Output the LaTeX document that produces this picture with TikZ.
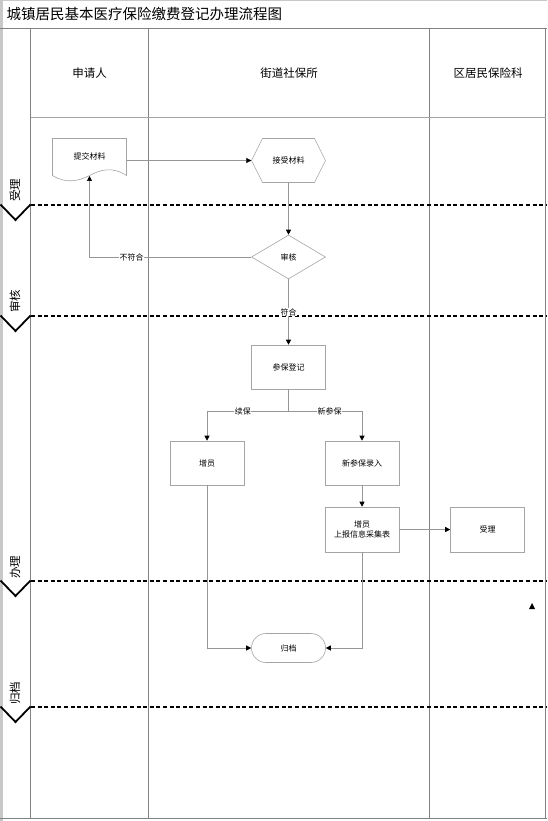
\documentclass[tikz,border=0pt]{standalone}
\usepackage{fontspec}
\setmainfont{Liberation Serif}
\newfontfamily\cjk{Noto Sans CJK SC}
\usetikzlibrary{arrows.meta,shapes.geometric}
\definecolor{linegray}{RGB}{150,150,150}
\definecolor{boxgray}{RGB}{165,165,165}
\definecolor{framegray}{RGB}{130,130,130}
\definecolor{stripgray}{RGB}{200,200,200}
\tikzset{
  box/.style={draw=boxgray, line width=0.6pt, minimum width=74pt, minimum height=44pt, inner sep=0pt, font=\cjk\fontsize{8}{10}\selectfont, align=center},
  plain/.style={inner sep=0pt, font=\cjk\fontsize{8}{10}\selectfont, align=center},
  conn/.style={draw=linegray, line width=0.6pt, -{Triangle[length=5pt,width=5pt,color=black]}},
  connplain/.style={draw=linegray, line width=0.6pt},
  lbl/.style={fill=white, inner sep=0.5pt, font=\cjk\fontsize{8}{10}\selectfont},
  frame/.style={draw=framegray, line width=0.8pt},
  sep/.style={draw=black, line width=1.6pt, dash pattern=on 4pt off 2.6pt},
  chev/.style={draw=black, line width=1.8pt},
  head/.style={font=\cjk\fontsize{11.5}{13}\selectfont},
  phase/.style={font=\cjk\fontsize{11.5}{13}\selectfont, rotate=90},
}
\begin{document}
\begin{tikzpicture}[x=1pt,y=-1pt]
\useasboundingbox (0,0) rectangle (547,821);
\fill[white] (0,0) rectangle (547,821);
% outer frame
\fill[stripgray] (0,0) rectangle (2.5,821);
\draw[draw=stripgray, line width=0.8pt] (0,0.5) -- (547,0.5);
\node[anchor=west, font=\cjk\fontsize{14.5}{16}\selectfont] (title) at (3,14) {城镇居民基本医疗保险缴费登记办理流程图};
\draw[frame] (0,28.5) -- (547,28.5);
\draw[frame] (545.5,28.5) -- (545.5,818);
\draw[frame] (0,818) -- (547,818);
% columns
\draw[frame] (30.5,28.5) -- (30.5,818);
\draw[frame] (148.5,28.5) -- (148.5,818);
\draw[frame] (429.5,28.5) -- (429.5,818);
\draw[draw=boxgray, line width=0.6pt] (30.5,117.5) -- (545.5,117.5);
% headers
\node[head] (h1) at (89.5,73) {申请人};
\node[head] (h2) at (289,73) {街道社保所};
\node[head] (h3) at (488,73) {区居民保险科};
% phase separators
\foreach \yy in {205,316,581,707}{
  \draw[sep] (31,\yy) -- (547,\yy);
  \draw[chev] (0.5,\yy-0.5) -- (15.5,\yy+15) -- (30.5,\yy-0.5);
}
\node[phase] (p1) at (15,190) {受理};
\node[phase] (p2) at (15,301) {审核};
\node[phase] (p3) at (15,567) {办理};
\node[phase] (p4) at (15,693) {归档};
% nodes
\node[plain, minimum width=74pt, minimum height=38pt] (submit) at (89.5,156) {提交材料};
\draw[draw=boxgray, line width=0.6pt] (52.5,138.5) -- (126.5,138.5) -- (126.5,175.5)
  .. controls (112,166) and (100,170) .. (89.5,175.5)
  .. controls (79,181) and (66,184) .. (52.5,175.5) -- cycle;
\coordinate (submitbot) at (89.5,176);
\node[plain, minimum width=74pt, minimum height=45pt] (accept) at (288.5,160.5) {接受材料};
\draw[draw=boxgray, line width=0.6pt] (251.5,160.5) -- (262.5,138.5) -- (314.5,138.5) -- (325.5,160.5) -- (314.5,182.5) -- (262.5,182.5) -- cycle;
\node[box, shape=diamond, minimum width=74pt, minimum height=44pt, aspect=1.68] (review) at (288.5,257) {审核};
\node[box] (register) at (288.5,367) {参保登记};
\node[box] (addL) at (207,463) {增员};
\node[box] (newin) at (362,463) {新参保录入};
\node[box, minimum height=45pt] (addR) at (362,529.5) {增员\\上报信息采集表};
\node[box, minimum height=45pt] (accept2) at (487.5,529.5) {受理};
\node[box, rounded corners=14.5pt, minimum height=29pt] (archive) at (288.5,648) {归档};
% connectors
\draw[conn] (submit.east |- accept.west) -- (accept.west);
\draw[conn] (accept.south) -- (review.north);
\draw[conn] (review.west) -| node[lbl, pos=0.37] {不符合} (submitbot);
\draw[conn] (review.south) -- node[lbl, pos=0.5] {符合} (register.north);
\coordinate (split) at (288.5,411);
\draw[connplain] (register.south) -- (split);
\draw[conn] (split) -| node[lbl, pos=0.28] {续保} (addL.north);
\draw[conn] (split) -| node[lbl, pos=0.28] {新参保} (newin.north);
\draw[conn] (newin.south) -- (addR.north);
\draw[conn] (addR.east) -- (accept2.west);
\draw[conn] (addL.south) |- (archive.west);
\draw[conn] (addR.south) |- (archive.east);
% stray marker
\fill[black] (529,609) -- (535,609) -- (532,603) -- cycle;
\end{tikzpicture}
\end{document}
